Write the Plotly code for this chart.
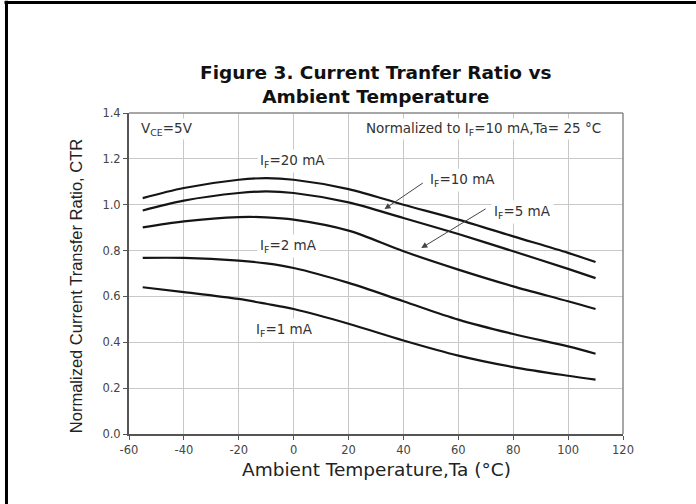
import plotly.graph_objects as go

temps = [-55, -40, -20, -10, 0, 20, 40, 60, 80, 100, 110]
ctr_20mA = [1.029, 1.073, 1.109, 1.116, 1.109, 1.068, 1.000, 0.935, 0.862, 0.790, 0.750]
ctr_10mA = [0.975, 1.018, 1.051, 1.058, 1.051, 1.010, 0.942, 0.872, 0.797, 0.720, 0.680]
ctr_5mA = [0.901, 0.927, 0.946, 0.945, 0.935, 0.887, 0.797, 0.717, 0.644, 0.579, 0.545]
ctr_2mA = [0.768, 0.768, 0.756, 0.744, 0.724, 0.659, 0.579, 0.499, 0.436, 0.382, 0.350]
ctr_1mA = [0.640, 0.619, 0.589, 0.568, 0.545, 0.481, 0.408, 0.342, 0.292, 0.254, 0.237]

x_ticks = [-60, -40, -20, 0, 20, 40, 60, 80, 100, 120]
y_ticks = [0.0, 0.2, 0.4, 0.6, 0.8, 1.0, 1.2, 1.4]
y_tick_labels = ["0.0", "0.2", "0.4", "0.6", "0.8", "1.0", "1.2", "1.4"]

series = [ctr_20mA, ctr_10mA, ctr_5mA, ctr_2mA, ctr_1mA]

fig = go.Figure()
for s in series:
    fig.add_trace(go.Scatter(x=temps, y=s, mode="lines",
                             line=dict(color="#151515", width=2.2, shape="spline", smoothing=0.9),
                             showlegend=False, hoverinfo="skip"))

tick_font = dict(family="DejaVu Sans", size=11.5, color="#444444")
label_font = dict(family="DejaVu Sans", size=13.5, color="#333333")

fig.update_xaxes(range=[-60, 120], tickvals=x_ticks, ticktext=[str(v) for v in x_ticks],
                 showgrid=True, gridcolor="#c8c8c8", gridwidth=1,
                 showline=True, linecolor="#555555", linewidth=2, mirror=False,
                 ticks="outside", ticklen=4, tickcolor="#555555", tickfont=tick_font,
                 zeroline=False, fixedrange=True)
fig.update_yaxes(range=[0, 1.4], tickvals=y_ticks, ticktext=y_tick_labels,
                 showgrid=True, gridcolor="#c8c8c8", gridwidth=1,
                 showline=True, linecolor="#555555", linewidth=2, mirror=False,
                 ticks="outside", ticklen=4, tickcolor="#555555", tickfont=tick_font,
                 zeroline=False, fixedrange=True)

ann = []
# Title
ann.append(dict(xref="paper", yref="paper", x=0.5, y=1.09, xanchor="center", yanchor="middle",
                text="<b>Figure 3. Current Tranfer Ratio vs<br>Ambient Temperature</b>",
                showarrow=False, font=dict(family="DejaVu Sans", size=18.5, color="#111111")))
# axis titles
ann.append(dict(xref="paper", yref="paper", x=0.5, y=-0.112, xanchor="center", yanchor="middle",
                text="Ambient Temperature,Ta (°C)", showarrow=False,
                font=dict(family="DejaVu Sans", size=18.5, color="#222222")))
ann.append(dict(xref="paper", yref="paper", x=-0.107, y=0.461, xanchor="center", yanchor="middle",
                text="Normalized Current Transfer Ratio, CTR", showarrow=False, textangle=-90,
                font=dict(family="Liberation Sans", size=16.5, color="#222222")))
# notes
ann.append(dict(x=-56.4, y=1.33, xanchor="left", yanchor="middle",
                text="V<sub>CE</sub>=5V", showarrow=False, font=label_font, bgcolor="white"))
ann.append(dict(x=112.7, y=1.33, xanchor="right", yanchor="middle",
                text="Normalized to I<sub>F</sub>=10 mA,Ta= 25 °C", showarrow=False,
                font=label_font, bgcolor="white"))
# curve labels
ann.append(dict(x=-0.4, y=1.19, text="I<sub>F</sub>=20 mA", showarrow=False, font=label_font,
                bgcolor="white", borderpad=2))
ann.append(dict(x=-2, y=0.82, text="I<sub>F</sub>=2 mA", showarrow=False, font=label_font,
                bgcolor="white", borderpad=2))
ann.append(dict(x=-3.3, y=0.454, text="I<sub>F</sub>=1 mA", showarrow=False, font=label_font,
                bgcolor="white", borderpad=2))
ann.append(dict(x=48.5, y=1.108, xanchor="left", text="I<sub>F</sub>=10 mA", showarrow=False,
                font=label_font, bgcolor="white", borderpad=2))
ann.append(dict(x=72, y=0.968, xanchor="left", text="I<sub>F</sub>=5 mA", showarrow=False,
                font=label_font, bgcolor="white", borderpad=2))
# arrows
ann.append(dict(x=33.1, y=0.981, ax=47.6, ay=1.099, axref="x", ayref="y", text="",
                showarrow=True, arrowhead=2, arrowsize=1.2, arrowwidth=1, arrowcolor="#444444"))
ann.append(dict(x=46.5, y=0.811, ax=70.5, ay=0.986, axref="x", ayref="y", text="",
                showarrow=True, arrowhead=2, arrowsize=1.2, arrowwidth=1, arrowcolor="#444444"))

shapes = [
    # plot frame (top/right lighter)
    dict(type="line", xref="paper", yref="paper", x0=0, x1=1, y0=1, y1=1,
         line=dict(color="#8a8a8a", width=1.5)),
    dict(type="line", xref="paper", yref="paper", x0=1, x1=1, y0=0, y1=1,
         line=dict(color="#8a8a8a", width=1.5)),
    # outer page border (top and left)
    dict(type="line", xref="paper", yref="paper", x0=-0.252, x1=1.15, y0=1.3442, y1=1.3442,
         line=dict(color="black", width=3)),
    dict(type="line", xref="paper", yref="paper", x0=-0.248, x1=-0.248, y0=1.35, y1=-0.22,
         line=dict(color="black", width=3)),
]

fig.update_layout(width=696, height=504,
                  margin=dict(l=129, r=73, t=113, b=70),
                  plot_bgcolor="white", paper_bgcolor="white",
                  annotations=ann, shapes=shapes)

fig.write_html("out.html", config={"displayModeBar": False},
               post_script="document.body.style.margin='0px';")
